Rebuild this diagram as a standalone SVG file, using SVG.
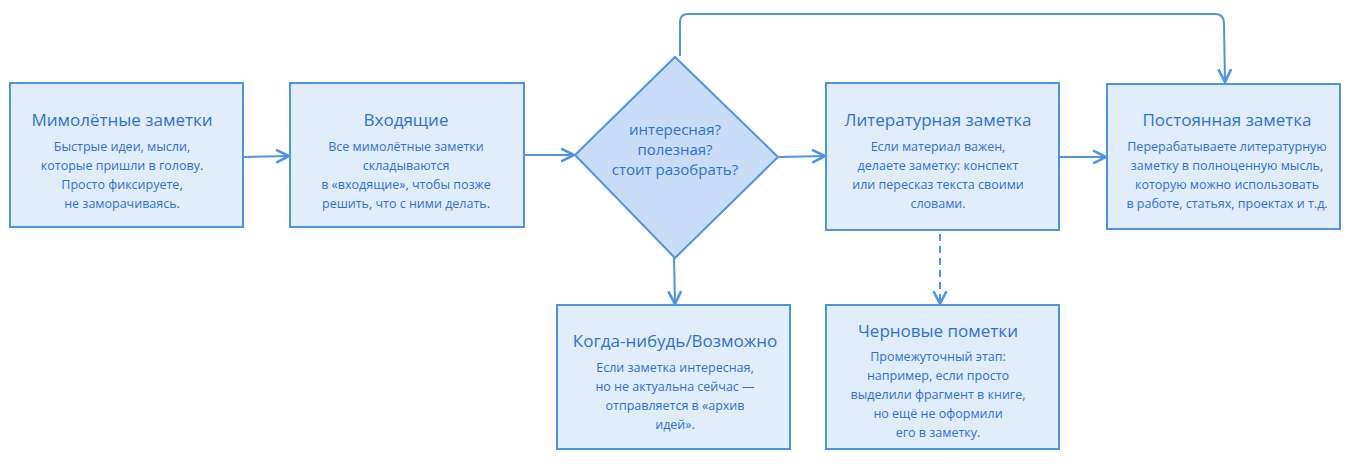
<svg xmlns="http://www.w3.org/2000/svg" width="1352" height="471" viewBox="0 0 1352 471">
<style>
.box{fill:#e2edfc;stroke:#4d93e6;stroke-width:2}
.dia{fill:#c9ddf8;stroke:#4d93e6;stroke-width:2}
.t{font-family:"Open Sans",sans-serif;fill:#2a72d8;text-anchor:middle}
.h{font-size:17px}
.b{font-size:12.5px}
.c{fill:none;stroke:#4d93e6;stroke-width:2}
</style>
<defs><marker id="a" viewBox="0 0 10 10" refX="9" refY="5" markerWidth="8" markerHeight="8" orient="auto"><path d="M1,1 L9,5 L1,9" fill="none" stroke="#4d93e6" stroke-width="1.6"/></marker></defs>
<rect width="1352" height="471" fill="#fff"/>
<g id="connectors">
<path class="c" d="M243,157 L289,156" marker-end="url(#a)"/>
<path class="c" d="M524,155 L574,155" marker-end="url(#a)"/>
<path class="c" d="M779,157 L825,156" marker-end="url(#a)"/>
<path class="c" d="M1060,157 L1106,157" marker-end="url(#a)"/>
<path class="c" d="M680,56 L680,22 Q680,14 688,14 L1215,14 Q1224,14 1224,24 L1225,82" marker-end="url(#a)"/>
<path class="c" d="M674,258 L675,304" marker-end="url(#a)"/>
<path class="c" d="M940,234 L940,304" stroke-dasharray="7,5" marker-end="url(#a)"/>
</g>
<g id="n1"><rect class="box" x="10" y="83" width="233" height="144"/>
<text class="t h" x="122" y="126">Мимолётные заметки</text>
<text class="t b"><tspan x="122" y="151">Быстрые идеи, мысли,</tspan><tspan x="122" y="170">которые пришли в голову.</tspan><tspan x="122" y="189">Просто фиксируете,</tspan><tspan x="122" y="208">не заморачиваясь.</tspan></text></g>
<g id="n2"><rect class="box" x="290" y="83" width="234" height="144"/>
<text class="t h" x="406" y="126">Входящие</text>
<text class="t b"><tspan x="406" y="151">Все мимолётные заметки</tspan><tspan x="406" y="170">складываются</tspan><tspan x="406" y="189">в «входящие», чтобы позже</tspan><tspan x="406" y="208">решить, что с ними делать.</tspan></text></g>
<g id="n3"><polygon class="dia" points="675,57 778,157 675,258 575,155"/>
<text class="t" style="font-size:15px"><tspan x="675" y="135">интересная?</tspan><tspan x="675" y="155">полезная?</tspan><tspan x="675" y="175">стоит разобрать?</tspan></text></g>
<g id="n4"><rect class="box" x="826" y="83" width="233" height="147"/>
<text class="t h" x="938" y="126">Литературная заметка</text>
<text class="t b"><tspan x="938" y="151">Если материал важен,</tspan><tspan x="938" y="170">делаете заметку: конспект</tspan><tspan x="938" y="189">или пересказ текста своими</tspan><tspan x="938" y="208">словами.</tspan></text></g>
<g id="n5"><rect class="box" x="1107" y="84" width="233" height="145"/>
<text class="t h" x="1227" y="126">Постоянная заметка</text>
<text class="t b"><tspan x="1227" y="151">Перерабатываете литературную</tspan><tspan x="1227" y="170">заметку в полноценную мысль,</tspan><tspan x="1227" y="189">которую можно использовать</tspan><tspan x="1227" y="208">в работе, статьях, проектах и т.д.</tspan></text></g>
<g id="n6"><rect class="box" x="557" y="305" width="233" height="144"/>
<text class="t h" x="675" y="347">Когда-нибудь/Возможно</text>
<text class="t b"><tspan x="675" y="372">Если заметка интересная,</tspan><tspan x="675" y="391">но не актуальна сейчас —</tspan><tspan x="675" y="410">отправляется в «архив</tspan><tspan x="675" y="429">идей».</tspan></text></g>
<g id="n7"><rect class="box" x="826" y="305" width="233" height="144"/>
<text class="t h" x="938" y="337">Черновые пометки</text>
<text class="t b"><tspan x="938" y="361">Промежуточный этап:</tspan><tspan x="938" y="380">например, если просто</tspan><tspan x="938" y="399">выделили фрагмент в книге,</tspan><tspan x="938" y="418">но ещё не оформили</tspan><tspan x="938" y="437">его в заметку.</tspan></text></g>
</svg>
